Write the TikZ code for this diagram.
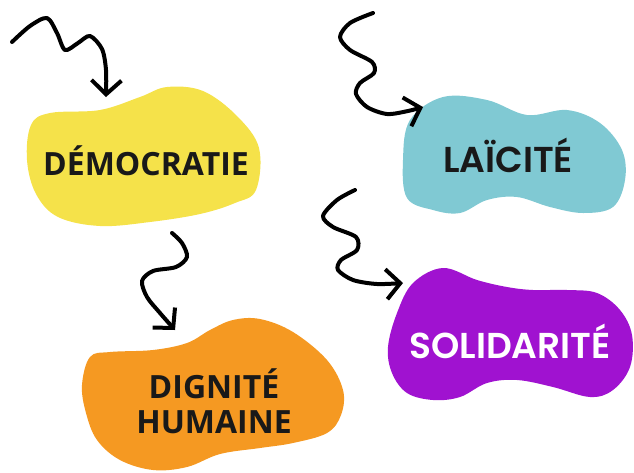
\documentclass[tikz,border=0pt]{standalone}
\usepackage{fontspec}
\usetikzlibrary{arrows.meta}
\newfontfamily\opensans{Open Sans}
\newfontfamily\poppins{Poppins SemiBold}
\definecolor{blobyellow}{RGB}{245,226,74}
\definecolor{blobcyan}{RGB}{128,201,211}
\definecolor{bloborange}{RGB}{245,153,34}
\definecolor{blobpurple}{RGB}{160,18,208}
\tikzset{
  blob/.style={smooth cycle, tension=0.6},
  wordA/.style={font=\opensans\bfseries\fontsize{32}{35}\selectfont, text=black!90, align=center, inner sep=0pt},
  wordB/.style={font=\poppins\fontsize{36}{38}\selectfont, inner sep=0pt},
  squiggle/.style={line width=4pt, line cap=round, line join=round, -{Straight Barb[length=14pt,width=30pt]}}
}
\begin{document}
\begin{tikzpicture}[x=1pt,y=-1pt]
  \useasboundingbox (0,0) rectangle (634,472);
  % blobs
  \fill[blobyellow] plot[blob] coordinates {(27,160) (31,125) (50,113) (100,110) (140,97) (167,87) (203,91) (237,116) (259,148) (256,190) (235,203) (200,214) (150,222) (100,226) (58,217) (36,194)};
  \fill[blobcyan] plot[blob] coordinates {(403,160) (410,120) (443,97) (487,100) (527,115) (567,110) (600,123) (622,150) (625,180) (613,207) (583,213) (550,207) (517,197) (487,200) (460,213) (433,210) (407,198)};
  \fill[bloborange] plot[blob] coordinates {(82,385) (90,357) (110,352) (153,350) (187,343) (210,330) (233,320) (260,319) (293,332) (327,360) (343,390) (341,415) (327,433) (293,443) (260,448) (220,454) (187,467) (153,470) (120,460) (97,440) (86,413)};
  \fill[blobpurple] plot[blob] coordinates {(388,347) (397,313) (413,283) (443,268) (477,280) (507,287) (533,290) (567,290) (597,293) (620,310) (632,335) (630,367) (613,390) (590,397) (553,387) (517,380) (487,383) (460,397) (433,400) (407,393) (392,373)};
  % words
  \node[wordA] (demo) at (146,161) {DÉMOCRATIE};
  \node[wordB, text=black!90] (laic) at (508,155) {LAÏCITÉ};
  \node[wordA] (dign) at (214,401) {DIGNITÉ\\HUMAINE};
  \node[wordB, text=white] (soli) at (510,341) {SOLIDARITÉ};
  % arrow ends
  \coordinate (demo-tail) at (12,42);
  \coordinate (demo-in) at (106,97);
  \coordinate (laic-tail) at (373,13);
  \coordinate (laic-in) at (423,107);
  \coordinate (dign-tail) at (172,233);
  \coordinate (dign-in) at (175,330);
  \coordinate (soli-tail) at (355,190);
  \coordinate (soli-in) at (403,283);
  % squiggly arrows
  \draw[squiggle] plot[smooth] coordinates {(demo-tail) (30,26) (47,18) (57,33) (65,50) (78,43) (90,36) (102,49) (106,70) (demo-in)};
  \draw[squiggle] plot[smooth] coordinates {(laic-tail) (350,23) (340,37) (350,50) (372,62) (374,73) (360,83) (356,94) (367,107) (387,114) (408,111) (laic-in)};
  \draw[squiggle] plot[smooth] coordinates {(dign-tail) (182,243) (187,257) (176,267) (153,271) (142,281) (147,297) (160,313) (dign-in)};
  \draw[squiggle] plot[smooth] coordinates {(soli-tail) (337,200) (323,216) (333,227) (356,237) (357,250) (341,260) (338,270) (353,280) (377,284) (soli-in)};
\end{tikzpicture}
\end{document}
